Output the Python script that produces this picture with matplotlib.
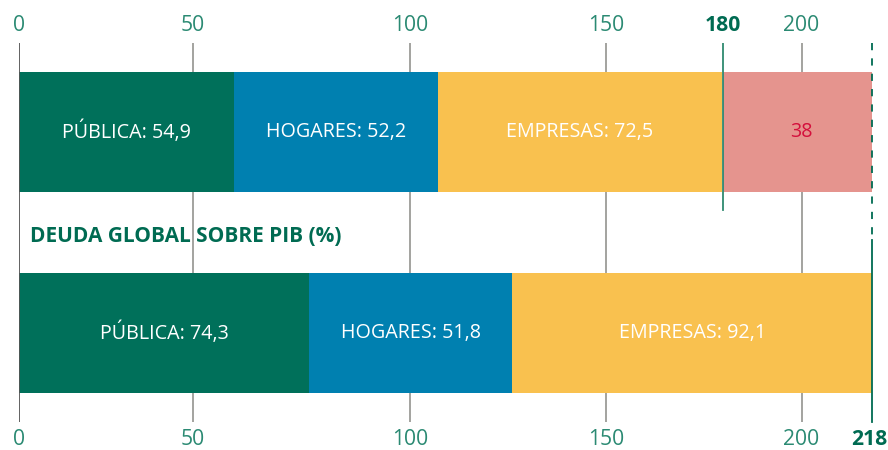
import matplotlib
matplotlib.use("Agg")
import matplotlib.pyplot as plt

# Data
rows = ["antes", "ahora"]          # top row, bottom row
segments = ["PÚBLICA", "HOGARES", "EMPRESAS"]
top_values = [54.9, 52.2, 72.5]
extra_value = 38
bottom_values = [74.3, 51.8, 92.1]
top_total = 180
bottom_total = 218
grid_ticks = [0, 44.5, 100, 150, 200]
grid_labels = ["0", "50", "100", "150", "200"]
title = "DEUDA GLOBAL SOBRE PIB (%)"

colors = ["#00705a", "#0080b0", "#f9c14f"]
extra_color = "#e5948e"
label_color = "#2b8a73"
dark_green = "#006b52"

plt.rcParams['font.family'] = ['Open Sans', 'DejaVu Sans']

fig = plt.figure(figsize=(8.88, 4.5), dpi=100)
L, R = 18.6 / 888, 872 / 888
B, T = 28 / 450, 407 / 450
ax = fig.add_axes([L, B, R - L, T - B])
ax.set_xlim(0, 218)
ax.set_ylim(-0.443, 1.443)
ax.axis("off")

bh = 0.6
ytop, ybot = 1, 0
fs_bar = 14.2
fs_tick = 15.2

# gridlines
for t in grid_ticks[1:]:
    ax.axvline(t, color="#8a8a85", lw=1.1, zorder=0)
ax.axvline(0, color="#555555", lw=1.3, zorder=3)

# top bars
left = 0
for v, c, name in zip(top_values, colors, segments):
    ax.barh(ytop, v, left=left, height=bh, color=c, zorder=2)
    ax.text(left + v / 2, ytop, f"{name}: {str(v).replace('.', ',')}",
            color="white", ha="center", va="center", fontsize=fs_bar, zorder=4)
    left += v
ax.barh(ytop, extra_value, left=top_total, height=bh, color=extra_color, zorder=2)
ax.text(top_total + extra_value / 2 + 1, ytop, str(extra_value), color="#d4103c",
        ha="center", va="center", fontsize=fs_bar, zorder=4)

# bottom bars
left = 0
for v, c, name in zip(bottom_values, colors, segments):
    ax.barh(ybot, v, left=left, height=bh, color=c, zorder=2)
    ax.text(left + v / 2, ybot, f"{name}: {str(v).replace('.', ',')}",
            color="white", ha="center", va="center", fontsize=fs_bar, zorder=4)
    left += v

# 180 line (top only)
ax.plot([top_total, top_total], [1.443, 1 - 0.388], color="#2f8a70", lw=1.3, zorder=3)
# 218 line: dashed top, solid bottom
ax.plot([bottom_total, bottom_total], [1.443, 0.463], color=dark_green, lw=1.3,
        ls=(0, (4, 4.5)), zorder=3, clip_on=False)
ax.plot([bottom_total, bottom_total], [0.463, -0.443], color=dark_green, lw=1.3,
        zorder=3, clip_on=False)

# tick labels
for t, lab in zip(grid_ticks, grid_labels):
    ax.annotate(lab, xy=(t, 1), xycoords=("data", "axes fraction"), xytext=(0, 12.5),
                textcoords="offset points", ha="center", va="center",
                fontsize=fs_tick, color=label_color)
    ax.annotate(lab, xy=(t, 0), xycoords=("data", "axes fraction"), xytext=(0, -12.5),
                textcoords="offset points", ha="center", va="center",
                fontsize=fs_tick, color=label_color)
ax.annotate(str(top_total), xy=(top_total, 1), xycoords=("data", "axes fraction"),
            xytext=(0, 12.5), textcoords="offset points", ha="center", va="center",
            fontsize=fs_tick, color=dark_green, fontweight="bold")
ax.annotate(str(bottom_total), xy=(bottom_total, 0), xycoords=("data", "axes fraction"),
            xytext=(-2, -12.5), textcoords="offset points", ha="center", va="center",
            fontsize=fs_tick, color=dark_green, fontweight="bold")

# title in middle
ax.text(3, 0.48, title, color=dark_green, fontsize=15, fontweight="bold",
        ha="left", va="center", zorder=4)

fig.savefig("out.png", dpi=100)
